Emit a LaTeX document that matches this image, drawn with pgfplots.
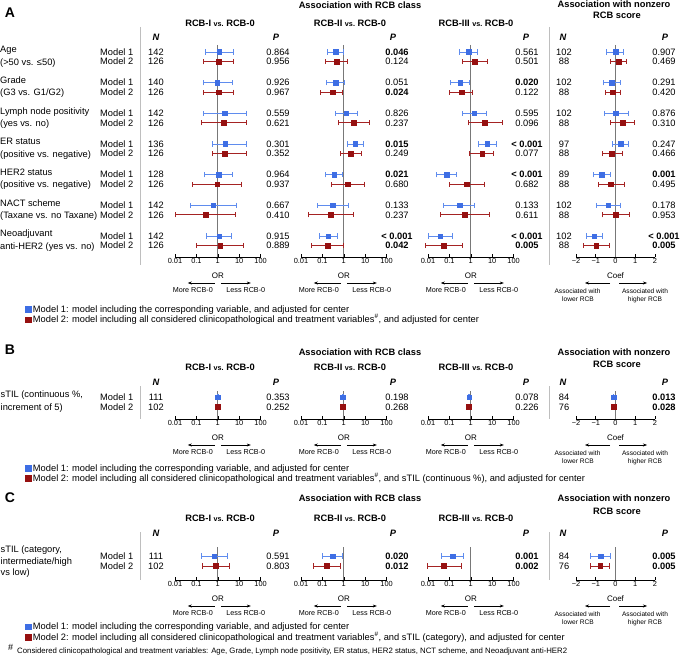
\documentclass[border=0pt]{standalone}
\usepackage{pgfplots}
\pgfplotsset{compat=1.18}
\usepackage{fontspec}
\setmainfont{Liberation Sans}
\usetikzlibrary{arrows.meta}

\definecolor{mblue}{RGB}{62,110,228}
\definecolor{mbluel}{RGB}{95,140,238}
\definecolor{mred}{RGB}{150,16,16}
\definecolor{mredl}{RGB}{165,35,35}
\definecolor{refg}{RGB}{120,120,120}
\definecolor{sepg}{RGB}{190,190,190}

\newcommand{\fs}{\fontsize{9.3}{11}\selectfont}
\newcommand{\tfs}{\fontsize{7.4}{9}\selectfont}
\newcommand{\lfs}{\fontsize{8}{9}\selectfont}
\newcommand{\afs}{\fontsize{7.2}{8.5}\selectfont}
\newcommand{\cfs}{\fontsize{6.6}{8}\selectfont}
\newcommand{\ffs}{\fontsize{7.8}{9}\selectfont}
\newcommand{\vs}{{\fontsize{7.2}{8}\selectfont vs.}}

\pgfplotsset{
 fp/.style={x=21.4pt, y=1pt, anchor=south west,
   axis x line*=bottom, axis y line=none, axis line style={-, black, line width=0.6pt},
   xmin=-2, xmax=2, xtick={-2,-1,0,1,2}, xticklabels={0.01,0.1,1,10,100},
   tick align=inside, major tick length=3pt, xtick style={black, line width=0.6pt},
   xticklabel style={font=\tfs, inner sep=1pt}, ytick=\empty, clip=false},
 cp/.style={fp, x=19.75pt, xticklabels={−2,−1,0,1,2}},
 m1/.style={only marks, mark=square*, mark size=2.3pt, color=mblue, mark options={draw=none, fill=mblue},
   error bars/.cd, x dir=both, x explicit, error bar style={mbluel, line width=0.9pt},
   error mark options={rotate=90, mbluel, mark size=2.6pt, line width=0.9pt}},
 m2/.style={only marks, mark=square*, mark size=2.4pt, color=mred, mark options={draw=none, fill=mred},
   error bars/.cd, x dir=both, x explicit, error bar style={mredl, line width=0.9pt},
   error mark options={rotate=90, mredl, mark size=2.6pt, line width=0.9pt}},
 lg/.style={legend style={draw=none, fill=none, at={(#1)}, anchor=north west, inner sep=0pt,
   outer sep=0pt, font=\fs, row sep=0pt, nodes={inner sep=0.6pt, text height=6.8pt, text depth=2.4pt}},
   legend cell align=left,
   legend image code/.code={\path (0pt,0pt) (8pt,0pt); \draw[##1, mark size=2.8pt] plot coordinates {(4.3pt,1pt)};}}
}
\newcommand{\fplot}[2]{\addplot[#1] table[row sep=\\, x=m, y=y, x error plus expr={\thisrow{hi}-\thisrow{m}}, x error minus expr={\thisrow{m}-\thisrow{lo}}] {#2};}

\tikzset{
 L/.style={anchor=base west, yshift=-3.3pt, inner sep=0pt, font=\fs},
 C/.style={anchor=base, yshift=-3.3pt, inner sep=0pt, font=\fs},
}

\begin{document}
\begin{tikzpicture}[x=1pt,y=1pt]
\path[use as bounding box] (0,0) rectangle (680,-655);

%%%%%%%%%%%%%%%% PANEL A %%%%%%%%%%%%%%%%
\node[C, font=\fontsize{14}{16}\selectfont\bfseries] at (10,-14.5) {A};
\node[C, font=\fs\bfseries] at (360,-5) {Association with RCB class};
\node[C, font=\fs\bfseries] at (614,-4.5) {Association with nonzero};
\node[C, font=\fs\bfseries] at (617,-15.5) {RCB score};
\node[C, font=\fs\bfseries] at (220,-23) {RCB-I \vs\ RCB-0};
\node[C, font=\fs\bfseries] at (350,-23) {RCB-II \vs\ RCB-0};
\node[C, font=\fs\bfseries] at (476,-23) {RCB-III \vs\ RCB-0};
\foreach \x/\t in {156/N,276/P,393/P,526/P,563/N,665/P}
  \node[C, font=\fs\bfseries\itshape] at (\x,-37) {\t};
\draw[sepg, line width=0.8pt] (140,-27) -- (140,-265);
\draw[sepg, line width=0.8pt] (549,-27) -- (549,-265);

\foreach \y/\t/\u in {52/Age/{(>50 vs. ≤50)}, 82.7/Grade/{(G3 vs. G1/G2)}, 113.3/Lymph node positivity/{(yes vs. no)}, 144/ER status/{(positive vs. negative)}, 174.7/HER2 status/{(positive vs. negative)}, 205.3/NACT scheme/{(Taxane vs. no Taxane)}, 236/Neoadjuvant/{anti-HER2 (yes vs. no)}} {
  \node[L] at (0,-\y+2.5) {\t};
  \node[L] at (0,-\y-10) {\u};
}

\foreach \y/\m/\n/\pa/\pb/\pc/\nn/\pd in {
52/1/142/0.864/\textbf{0.046}/0.561/102/0.907,
61.5/2/126/0.956/0.124/0.501/88/0.469,
82.7/1/140/0.926/0.051/\textbf{0.020}/102/0.291,
92.2/2/126/0.967/\textbf{0.024}/0.122/88/0.420,
113.3/1/142/0.559/0.826/0.595/102/0.876,
122.8/2/126/0.621/0.237/0.096/88/0.310,
144/1/136/0.301/\textbf{0.015}/\textbf{< 0.001}/97/0.247,
153.5/2/126/0.352/0.249/0.077/88/0.466,
174.7/1/128/0.964/\textbf{0.021}/\textbf{< 0.001}/89/\textbf{0.001},
184.2/2/126/0.937/0.680/0.682/88/0.495,
205.3/1/142/0.667/0.133/0.133/102/0.178,
214.8/2/126/0.410/0.237/0.611/88/0.953,
236/1/142/0.915/\textbf{< 0.001}/\textbf{< 0.001}/102/\textbf{< 0.001},
245.5/2/126/0.889/\textbf{0.042}/\textbf{0.005}/88/\textbf{0.005}} {
  \node[L] at (100,-\y) {Model \m};
  \node[C] at (156,-\y) {\n};
  \node[C] at (278,-\y) {\pa};
  \node[C] at (397,-\y) {\pb};
  \node[C] at (527,-\y) {\pc};
  \node[C] at (564,-\y) {\nn};
  \node[C] at (664,-\y) {\pd};
}

\begin{axis}[fp, at={(175pt,-257pt)}, ymin=-257, ymax=-45, lg={-1.764,-0.226}]
\draw[refg, line width=0.7pt] (axis cs:0,-45) -- (axis cs:0,-257);
\fplot{m1}{y m lo hi\\ -52 0.06 -0.57 0.71\\ -82.7 -0.02 -0.65 0.67\\ -113.3 0.31 -0.65 1.36\\ -144 0.34 -0.25 1.33\\ -174.7 0.03 -0.62 0.67\\ -205.3 -0.22 -1.30 0.87\\ -236 0.06 -0.53 0.65\\}
\addlegendentry{Model 1: model including the corresponding variable, and adjusted for center}
\fplot{m2}{y m lo hi\\ -61.5 0.05 -0.65 0.74\\ -92.2 0.03 -0.65 0.74\\ -122.8 0.28 -0.76 1.33\\ -153.5 0.33 -0.26 1.36\\ -184.2 -0.03 -1.20 1.12\\ -214.8 -0.57 -2.00 0.84\\ -245.5 0.11 -1.02 1.22\\}
\addlegendentry{Model 2: model including all considered clinicopathological and treatment variables\textsuperscript{\#}, and adjusted for center}
\end{axis}

\begin{axis}[fp, at={(301pt,-257pt)}, ymin=-257, ymax=-45]
\draw[refg, line width=0.7pt] (axis cs:0,-45) -- (axis cs:0,-257);
\fplot{m1}{y m lo hi\\ -52 -0.37 -0.76 -0.01\\ -82.7 -0.37 -0.79 0.01\\ -113.3 0.12 -0.40 0.65\\ -144 0.53 0.15 0.93\\ -174.7 -0.45 -0.87 -0.06\\ -205.3 -0.51 -1.23 0.20\\ -236 -0.73 -1.15 -0.32\\}
\fplot{m2}{y m lo hi\\ -61.5 -0.34 -0.85 0.15\\ -92.2 -0.53 -1.07 -0.06\\ -122.8 0.46 -0.23 1.20\\ -153.5 0.32 -0.16 0.81\\ -184.2 0.20 -0.59 0.96\\ -214.8 -0.63 -1.65 0.46\\ -245.5 -0.74 -1.49 -0.01\\}
\end{axis}

\begin{axis}[fp, at={(428pt,-257pt)}, ymin=-257, ymax=-45]
\draw[refg, line width=0.7pt] (axis cs:0,-45) -- (axis cs:0,-257);
\fplot{m1}{y m lo hi\\ -52 -0.10 -0.53 0.29\\ -82.7 -0.49 -0.93 -0.06\\ -113.3 0.15 -0.38 0.71\\ -144 0.76 0.34 1.20\\ -174.7 -1.12 -1.59 -0.65\\ -205.3 -0.53 -1.28 0.16\\ -236 -1.43 -2.00 -0.84\\}
\fplot{m2}{y m lo hi\\ -61.5 0.20 -0.37 0.76\\ -92.2 -0.41 -1.00 0.07\\ -122.8 0.65 -0.10 1.46\\ -153.5 0.53 -0.06 1.07\\ -184.2 -0.18 -1.00 0.65\\ -214.8 -0.29 -1.43 0.87\\ -245.5 -1.28 -2.12 -0.37\\}
\end{axis}

\begin{axis}[cp, at={(576pt,-257pt)}, ymin=-257, ymax=-45]
\draw[refg, line width=0.7pt] (axis cs:0,-45) -- (axis cs:0,-257);
\fplot{m1}{y m lo hi\\ -52 0.01 -0.44 0.39\\ -82.7 -0.19 -0.62 0.23\\ -113.3 0.01 -0.57 0.65\\ -144 0.26 -0.16 0.68\\ -174.7 -0.70 -1.12 -0.28\\ -205.3 -0.36 -0.95 0.23\\ -236 -1.07 -1.49 -0.67\\}
\fplot{m2}{y m lo hi\\ -61.5 0.16 -0.24 0.57\\ -92.2 -0.14 -0.53 0.26\\ -122.8 0.36 -0.28 0.98\\ -153.5 -0.18 -0.68 0.34\\ -184.2 -0.23 -0.87 0.43\\ -214.8 0.03 -0.65 0.70\\ -245.5 -0.98 -1.63 -0.31\\}
\end{axis}

%%%%%%%%%%%%%%%% PANEL B %%%%%%%%%%%%%%%%
\node[C, font=\fontsize{14}{16}\selectfont\bfseries] at (10,-351) {B};
\node[C, font=\fs\bfseries] at (360,-352) {Association with RCB class};
\node[C, font=\fs\bfseries] at (614,-352) {Association with nonzero};
\node[C, font=\fs\bfseries] at (617,-364) {RCB score};
\node[C, font=\fs\bfseries] at (220,-367) {RCB-I \vs\ RCB-0};
\node[C, font=\fs\bfseries] at (350,-367) {RCB-II \vs\ RCB-0};
\node[C, font=\fs\bfseries] at (476,-367) {RCB-III \vs\ RCB-0};
\foreach \x/\t in {156/N,276/P,393/P,526/P,563/N,665/P}
  \node[C, font=\fs\bfseries\itshape] at (\x,-382) {\t};
\draw[sepg, line width=0.8pt] (140,-386) -- (140,-419);
\draw[sepg, line width=0.8pt] (549,-386) -- (549,-419);
\node[L] at (0.5,-394.5) {sTIL (continuous \%,};
\node[L] at (0.5,-407.5) {increment of 5)};
\foreach \y/\m/\n/\pa/\pb/\pc/\nn/\pd in {
397/1/111/0.353/0.198/0.078/84/\textbf{0.013},
407/2/102/0.252/0.268/0.226/76/\textbf{0.028}} {
  \node[L] at (100,-\y) {Model \m};
  \node[C] at (156,-\y) {\n};
  \node[C] at (278,-\y) {\pa};
  \node[C] at (397,-\y) {\pb};
  \node[C] at (527,-\y) {\pc};
  \node[C] at (564,-\y) {\nn};
  \node[C] at (664,-\y) {\pd};
}

\begin{axis}[fp, at={(175pt,-419pt)}, ymin=-419, ymax=-391, lg={-1.764,-1.6}]
\draw[refg, line width=0.7pt] (axis cs:0,-391) -- (axis cs:0,-419);
\fplot{m1}{y m lo hi\\ -397 -0.01 -0.03 0.01\\}
\addlegendentry{Model 1: model including the corresponding variable, and adjusted for center}
\fplot{m2}{y m lo hi\\ -407 -0.01 -0.03 0.01\\}
\addlegendentry{Model 2: model including all considered clinicopathological and treatment variables\textsuperscript{\#}, and sTIL (continuous \%), and adjusted for center}
\end{axis}
\begin{axis}[fp, at={(301pt,-419pt)}, ymin=-419, ymax=-391]
\draw[refg, line width=0.7pt] (axis cs:0,-391) -- (axis cs:0,-419);
\fplot{m1}{y m lo hi\\ -397 -0.04 -0.06 -0.02\\}
\fplot{m2}{y m lo hi\\ -407 -0.04 -0.06 -0.02\\}
\end{axis}
\begin{axis}[fp, at={(428pt,-419pt)}, ymin=-419, ymax=-391]
\draw[refg, line width=0.7pt] (axis cs:0,-391) -- (axis cs:0,-419);
\fplot{m1}{y m lo hi\\ -397 -0.08 -0.10 -0.06\\}
\fplot{m2}{y m lo hi\\ -407 -0.08 -0.10 -0.06\\}
\end{axis}
\begin{axis}[cp, at={(576pt,-419pt)}, ymin=-419, ymax=-391]
\draw[refg, line width=0.7pt] (axis cs:0,-391) -- (axis cs:0,-419);
\fplot{m1}{y m lo hi\\ -397 -0.10 -0.12 -0.08\\}
\fplot{m2}{y m lo hi\\ -407 -0.10 -0.12 -0.08\\}
\end{axis}

%%%%%%%%%%%%%%%% PANEL C %%%%%%%%%%%%%%%%
\node[C, font=\fontsize{14}{16}\selectfont\bfseries] at (10,-499) {C};
\node[C, font=\fs\bfseries] at (360,-498) {Association with RCB class};
\node[C, font=\fs\bfseries] at (614,-498) {Association with nonzero};
\node[C, font=\fs\bfseries] at (617,-511) {RCB score};
\node[C, font=\fs\bfseries] at (220,-518) {RCB-I \vs\ RCB-0};
\node[C, font=\fs\bfseries] at (350,-518) {RCB-II \vs\ RCB-0};
\node[C, font=\fs\bfseries] at (476,-518) {RCB-III \vs\ RCB-0};
\foreach \x/\t in {156/N,276/P,393/P,526/P,563/N,665/P}
  \node[C, font=\fs\bfseries\itshape] at (\x,-533) {\t};
\draw[sepg, line width=0.8pt] (140,-532) -- (140,-580);
\draw[sepg, line width=0.8pt] (549,-532) -- (549,-580);
\node[L] at (0.5,-549) {sTIL (category,};
\node[L] at (0.5,-561) {intermediate/high};
\node[L] at (0.5,-572) {vs low)};
\foreach \y/\m/\n/\pa/\pb/\pc/\nn/\pd in {
556/1/111/0.591/\textbf{0.020}/\textbf{0.001}/84/\textbf{0.005},
566/2/102/0.803/\textbf{0.012}/\textbf{0.002}/76/\textbf{0.005}} {
  \node[L] at (100,-\y) {Model \m};
  \node[C] at (156,-\y) {\n};
  \node[C] at (278,-\y) {\pa};
  \node[C] at (397,-\y) {\pb};
  \node[C] at (527,-\y) {\pc};
  \node[C] at (564,-\y) {\nn};
  \node[C] at (664,-\y) {\pd};
}

\begin{axis}[fp, at={(175pt,-580pt)}, ymin=-580, ymax=-547, lg={-1.764,-1.29}]
\draw[refg, line width=0.7pt] (axis cs:0,-547) -- (axis cs:0,-580);
\fplot{m1}{y m lo hi\\ -556 -0.17 -0.76 0.45\\}
\addlegendentry{Model 1: model including the corresponding variable, and adjusted for center}
\fplot{m2}{y m lo hi\\ -566 -0.09 -0.73 0.56\\}
\addlegendentry{Model 2: model including all considered clinicopathological and treatment variables\textsuperscript{\#}, and sTIL (category), and adjusted for center}
\end{axis}
\begin{axis}[fp, at={(301pt,-580pt)}, ymin=-580, ymax=-547]
\draw[refg, line width=0.7pt] (axis cs:0,-547) -- (axis cs:0,-580);
\fplot{m1}{y m lo hi\\ -556 -0.53 -1.00 -0.08\\}
\fplot{m2}{y m lo hi\\ -566 -0.79 -1.42 -0.16\\}
\end{axis}
\begin{axis}[fp, at={(428pt,-580pt)}, ymin=-580, ymax=-547]
\draw[refg, line width=0.7pt] (axis cs:0,-547) -- (axis cs:0,-580);
\fplot{m1}{y m lo hi\\ -556 -0.85 -1.38 -0.34\\}
\fplot{m2}{y m lo hi\\ -566 -1.28 -2.03 -0.46\\}
\end{axis}
\begin{axis}[cp, at={(576pt,-580pt)}, ymin=-580, ymax=-547]
\draw[refg, line width=0.7pt] (axis cs:0,-547) -- (axis cs:0,-580);
\fplot{m1}{y m lo hi\\ -556 -0.75 -1.25 -0.28\\}
\fplot{m2}{y m lo hi\\ -566 -0.78 -1.29 -0.31\\}
\end{axis}

%%%%%%%%%%%%%%%% axis annotations %%%%%%%%%%%%%%%%
\foreach \Y in {257,419,580} {
  \foreach \cx in {217.8,343.8,470.8} {
    \node[C, font=\lfs] at (\cx,-\Y-18) {OR};
    \draw[-{Stealth[length=4pt,width=3pt]}, line width=0.5pt] (\cx-3,-\Y-26) -- (\cx-30,-\Y-26);
    \draw[-{Stealth[length=4pt,width=3pt]}, line width=0.5pt] (\cx+3,-\Y-26) -- (\cx+33,-\Y-26);
    \node[C, font=\afs] at (\cx-25,-\Y-32) {More RCB-0};
    \node[C, font=\afs] at (\cx+28,-\Y-32) {Less RCB-0};
  }
  \node[C, font=\lfs] at (615.5,-\Y-18) {Coef};
  \draw[-{Stealth[length=4pt,width=3pt]}, line width=0.5pt] (610,-\Y-26) -- (585,-\Y-26);
  \draw[-{Stealth[length=4pt,width=3pt]}, line width=0.5pt] (619,-\Y-26) -- (647,-\Y-26);
  \node[C, font=\cfs] at (577.5,-\Y-33) {Associated with};
  \node[C, font=\cfs] at (578,-\Y-41) {lower RCB};
  \node[C, font=\cfs] at (645,-\Y-33) {Associated with};
  \node[C, font=\cfs] at (645,-\Y-41) {higher RCB};
}

%%%%%%%%%%%%%%%% footnote %%%%%%%%%%%%%%%%
\node[anchor=base west, inner sep=0pt, font=\fontsize{9}{10}\selectfont] at (8,-650) {\#};
\node[anchor=base west, inner sep=0pt, font=\ffs] at (17,-653) {Considered clinicopathological and treatment variables: Age, Grade, Lymph node positivity, ER status, HER2 status, NCT scheme, and Neoadjuvant anti-HER2};
\end{tikzpicture}
\end{document}
